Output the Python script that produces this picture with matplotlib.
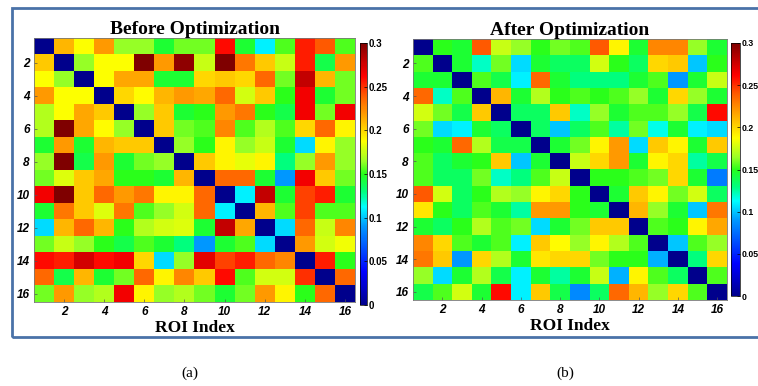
import numpy as np
import matplotlib
matplotlib.use("Agg")
from matplotlib import pyplot as plt
from matplotlib.colors import LinearSegmentedColormap
from matplotlib.patches import Rectangle

# ROI-to-ROI values (row 1 at top)
before = [
    [0.000, 0.210, 0.187, 0.220, 0.165, 0.165, 0.145, 0.160, 0.160, 0.260, 0.145, 0.110, 0.155, 0.255, 0.240, 0.155],
    [0.205, 0.000, 0.165, 0.187, 0.187, 0.300, 0.220, 0.295, 0.175, 0.300, 0.230, 0.205, 0.175, 0.255, 0.140, 0.220],
    [0.187, 0.165, 0.000, 0.187, 0.215, 0.215, 0.145, 0.145, 0.200, 0.205, 0.200, 0.235, 0.160, 0.280, 0.210, 0.160],
    [0.220, 0.187, 0.187, 0.000, 0.200, 0.188, 0.210, 0.220, 0.215, 0.235, 0.178, 0.205, 0.150, 0.265, 0.145, 0.160],
    [0.170, 0.187, 0.215, 0.205, 0.000, 0.165, 0.205, 0.145, 0.150, 0.220, 0.230, 0.150, 0.140, 0.265, 0.160, 0.265],
    [0.170, 0.300, 0.215, 0.188, 0.165, 0.000, 0.205, 0.160, 0.155, 0.225, 0.155, 0.170, 0.155, 0.200, 0.235, 0.190],
    [0.145, 0.220, 0.145, 0.210, 0.205, 0.205, 0.000, 0.165, 0.150, 0.190, 0.165, 0.175, 0.145, 0.105, 0.190, 0.165],
    [0.165, 0.300, 0.140, 0.220, 0.145, 0.160, 0.165, 0.000, 0.205, 0.190, 0.182, 0.190, 0.130, 0.165, 0.220, 0.165],
    [0.160, 0.180, 0.205, 0.215, 0.150, 0.150, 0.145, 0.210, 0.000, 0.235, 0.235, 0.145, 0.090, 0.265, 0.205, 0.160],
    [0.265, 0.300, 0.205, 0.235, 0.220, 0.230, 0.190, 0.190, 0.235, 0.000, 0.110, 0.280, 0.145, 0.245, 0.255, 0.145],
    [0.145, 0.230, 0.205, 0.180, 0.230, 0.155, 0.165, 0.178, 0.235, 0.110, 0.000, 0.210, 0.155, 0.245, 0.155, 0.155],
    [0.105, 0.210, 0.235, 0.210, 0.150, 0.170, 0.178, 0.180, 0.145, 0.280, 0.215, 0.000, 0.105, 0.235, 0.175, 0.225],
    [0.160, 0.175, 0.165, 0.150, 0.140, 0.155, 0.145, 0.130, 0.090, 0.145, 0.155, 0.105, 0.000, 0.220, 0.178, 0.185],
    [0.260, 0.255, 0.275, 0.260, 0.265, 0.200, 0.105, 0.165, 0.270, 0.245, 0.255, 0.235, 0.225, 0.000, 0.255, 0.150],
    [0.235, 0.140, 0.210, 0.145, 0.160, 0.235, 0.190, 0.225, 0.205, 0.260, 0.155, 0.178, 0.178, 0.250, 0.000, 0.235],
    [0.160, 0.220, 0.165, 0.170, 0.265, 0.190, 0.165, 0.170, 0.160, 0.145, 0.160, 0.220, 0.190, 0.150, 0.235, 0.000],
]

after = [
    [0.000, 0.150, 0.145, 0.240, 0.175, 0.165, 0.150, 0.160, 0.155, 0.240, 0.190, 0.145, 0.225, 0.225, 0.165, 0.145],
    [0.155, 0.000, 0.145, 0.120, 0.160, 0.105, 0.145, 0.135, 0.135, 0.178, 0.150, 0.135, 0.200, 0.205, 0.100, 0.150],
    [0.145, 0.145, 0.000, 0.155, 0.140, 0.110, 0.235, 0.145, 0.130, 0.130, 0.130, 0.145, 0.155, 0.090, 0.145, 0.175],
    [0.235, 0.120, 0.155, 0.000, 0.210, 0.145, 0.170, 0.150, 0.155, 0.150, 0.155, 0.165, 0.145, 0.200, 0.165, 0.145],
    [0.178, 0.160, 0.140, 0.205, 0.000, 0.135, 0.135, 0.205, 0.120, 0.165, 0.145, 0.155, 0.155, 0.165, 0.140, 0.260],
    [0.160, 0.105, 0.110, 0.145, 0.135, 0.000, 0.135, 0.100, 0.135, 0.155, 0.125, 0.160, 0.115, 0.145, 0.110, 0.105],
    [0.150, 0.145, 0.235, 0.170, 0.140, 0.140, 0.000, 0.145, 0.160, 0.190, 0.220, 0.105, 0.205, 0.190, 0.145, 0.205],
    [0.155, 0.135, 0.145, 0.150, 0.205, 0.100, 0.145, 0.000, 0.175, 0.200, 0.220, 0.145, 0.190, 0.200, 0.125, 0.140],
    [0.155, 0.135, 0.135, 0.160, 0.120, 0.130, 0.155, 0.175, 0.000, 0.150, 0.150, 0.155, 0.160, 0.200, 0.145, 0.080],
    [0.240, 0.178, 0.135, 0.150, 0.170, 0.165, 0.190, 0.200, 0.150, 0.000, 0.145, 0.205, 0.190, 0.160, 0.178, 0.135],
    [0.195, 0.150, 0.135, 0.155, 0.145, 0.125, 0.220, 0.220, 0.150, 0.145, 0.000, 0.210, 0.165, 0.145, 0.100, 0.230],
    [0.145, 0.135, 0.150, 0.170, 0.155, 0.160, 0.105, 0.145, 0.160, 0.205, 0.205, 0.000, 0.155, 0.150, 0.190, 0.215],
    [0.225, 0.200, 0.155, 0.145, 0.155, 0.110, 0.205, 0.188, 0.165, 0.190, 0.170, 0.155, 0.000, 0.100, 0.155, 0.165],
    [0.230, 0.205, 0.090, 0.200, 0.170, 0.145, 0.195, 0.200, 0.200, 0.160, 0.150, 0.150, 0.095, 0.000, 0.130, 0.200],
    [0.165, 0.105, 0.145, 0.170, 0.140, 0.110, 0.145, 0.125, 0.145, 0.175, 0.095, 0.190, 0.155, 0.135, 0.000, 0.155],
    [0.140, 0.155, 0.178, 0.145, 0.260, 0.110, 0.205, 0.140, 0.085, 0.135, 0.235, 0.210, 0.165, 0.200, 0.155, 0.000],
]

titles = ["Before Optimization", "After Optimization"]
panel_labels = ["(a)", "(b)"]
roi_ticks = [2, 4, 6, 8, 10, 12, 14, 16]
cbar_ticks = [0, 0.05, 0.1, 0.15, 0.2, 0.25, 0.3]
cbar_labels = ["0", "0.05", "0.1", "0.15", "0.2", "0.25", "0.3"]

# a punchier jet, the scan looks oversaturated
jet_like = LinearSegmentedColormap.from_list("jet_like", [
    (0.0, (0.0, 0.0, 0.55)),
    (0.125, (0.0, 0.0, 1.0)),
    (0.3, (0.0, 0.6, 1.0)),
    (0.375, (0.0, 1.0, 1.0)),
    (0.43, (0.0, 1.0, 0.5)),
    (0.5, (0.15, 1.0, 0.1)),
    (0.55, (0.6, 1.0, 0.15)),
    (0.625, (1.0, 1.0, 0.0)),
    (0.72, (1.0, 0.65, 0.0)),
    (0.8, (1.0, 0.35, 0.0)),
    (0.875, (1.0, 0.0, 0.0)),
    (1.0, (0.5, 0.0, 0.0)),
])

W, H = 758, 386


def px(x0, y0, x1, y1):
    return [x0 / W, 1 - y1 / H, (x1 - x0) / W, (y1 - y0) / H]


fig = plt.figure(figsize=(W / 100, H / 100), dpi=100)

heat_boxes = [px(34, 38, 355, 302), px(413, 39, 727, 300)]
cbar_boxes = [px(360, 43, 367, 305), px(731, 43, 740, 296)]
cbar_font = [7, 6.3]
label_x = [190, 565]

for i, data in enumerate([before, after]):
    ax = fig.add_axes(heat_boxes[i])
    im = ax.imshow(np.array(data), cmap=jet_like, vmin=0, vmax=0.3,
                   interpolation="nearest", aspect="auto",
                   extent=(0.5, 16.5, 16.5, 0.5))
    ax.set_xticks(roi_ticks)
    ax.set_yticks(roi_ticks)
    ax.tick_params(direction="in", length=2, width=0.5, color="#555555", pad=3)
    for t in ax.get_xticklabels() + ax.get_yticklabels():
        t.set_fontfamily("Liberation Sans")
        t.set_fontweight("bold")
        t.set_fontstyle("italic")
        t.set_fontsize(8.5)
    for s in ax.spines.values():
        s.set_linewidth(0.6)
        s.set_color("#777777")
    ax.set_title(titles[i], fontfamily="Liberation Serif", fontweight="bold",
                 fontsize=14, pad=2)
    ax.set_xlabel("ROI Index", fontfamily="Liberation Serif", fontweight="bold",
                  fontsize=12.5, labelpad=1)

    cax = fig.add_axes(cbar_boxes[i])
    cb = fig.colorbar(im, cax=cax)
    cb.set_ticks(cbar_ticks)
    cb.set_ticklabels(cbar_labels)
    cb.outline.set_linewidth(0.5)
    cax.tick_params(direction="in", length=2, width=0.5, pad=1)
    for t in cax.get_yticklabels():
        t.set_fontfamily("Liberation Sans")
        t.set_fontweight("bold")
        t.set_fontsize(cbar_font[i])

    fig.text(label_x[i] / W, 1 - 373 / H, panel_labels[i],
             fontfamily="Liberation Serif", fontsize=11, ha="center", va="center")

# blue frame around both panels
fig.patches.append(Rectangle((12 / W, 1 - 337 / H), 1.0, (337 - 8) / H,
                             transform=fig.transFigure, fill=False,
                             edgecolor="#4a72a8", linewidth=2))

fig.savefig("out.png", dpi=100)
